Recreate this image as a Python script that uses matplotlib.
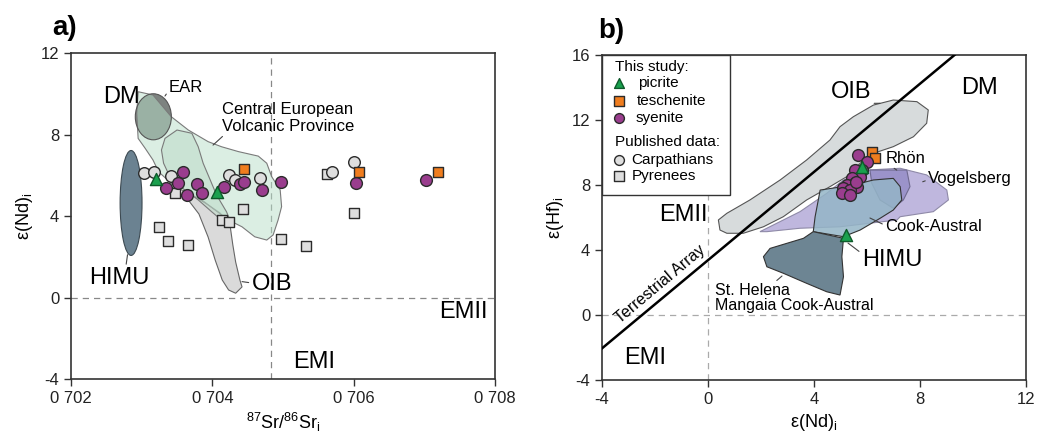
import numpy as np
import matplotlib
matplotlib.use('Agg')
import matplotlib.pyplot as plt
from matplotlib.patches import Polygon, Ellipse, Rectangle

plt.rcParams['font.family'] = ['Liberation Sans', 'DejaVu Sans']
plt.rcParams['mathtext.fontset'] = 'custom'
plt.rcParams['mathtext.rm'] = 'Liberation Sans'
plt.rcParams['mathtext.it'] = 'Liberation Sans:italic'
plt.rcParams['axes.unicode_minus'] = False

# colours
PURPLE = '#9a3d8e'
ORANGE = '#f07d1e'
GREEN = '#1aa04e'
PUBL = '#dedede'
EDGE = '#2b2b2b'
SPINE = '#333333'

# ---------------- a) eNd vs 87Sr/86Sr ----------------
syenite_sr = [0.70358, 0.70335, 0.70352, 0.70364, 0.70378, 0.70386, 0.70416,
              0.70439, 0.70445, 0.70470, 0.70497, 0.70603, 0.70702]
syenite_nd = [6.14, 5.37, 5.60, 5.03, 5.56, 5.11, 5.44, 5.59, 5.68, 5.28, 5.68, 5.63, 5.77]
picrite_sr = [0.70320, 0.70407]
picrite_nd = [5.82, 5.16]
teschenite_sr = [0.70445, 0.70608, 0.70720]
teschenite_nd = [6.31, 6.17, 6.17]
carp_sr = [0.70304, 0.70318, 0.70342, 0.70423, 0.70432, 0.70467, 0.70569, 0.70600]
carp_nd = [6.13, 6.16, 5.96, 6.01, 5.77, 5.86, 6.16, 6.65]
pyr_sr = [0.70347, 0.70443, 0.70413, 0.70424, 0.70325, 0.70337, 0.70365,
          0.70497, 0.70533, 0.70562, 0.70600]
pyr_nd = [5.11, 4.34, 3.80, 3.69, 3.45, 2.79, 2.58, 2.86, 2.54, 6.05, 4.13]

# fields (panel a)
cevp_x = [0.70295, 0.70316, 0.70342, 0.70366, 0.70394, 0.70413, 0.70437, 0.70465, 0.70477,
          0.70484, 0.70496, 0.70498, 0.70493, 0.70486, 0.70477, 0.70460, 0.70442, 0.70423,
          0.70404, 0.70385, 0.70371, 0.70347, 0.70324, 0.70316, 0.70305, 0.70295, 0.70293]
cevp_y = [10.10, 9.94, 8.87, 8.22, 7.65, 7.40, 7.16, 6.94, 6.59, 5.93, 5.28, 4.46, 3.80,
          3.07, 2.82, 2.98, 3.47, 3.80, 4.29, 4.79, 5.03, 5.44, 6.17, 6.75, 7.32, 7.81, 9.04]
inner_x = [0.70350, 0.70371, 0.70380, 0.70387, 0.70397, 0.70406, 0.70420, 0.70427,
           0.70413, 0.70399, 0.70380, 0.70361, 0.70342, 0.70331, 0.70328, 0.70333]
inner_y = [8.22, 8.06, 7.40, 6.59, 5.77, 5.03, 4.21, 3.64, 3.80, 4.21, 4.79, 5.28,
           5.77, 6.59, 7.24, 7.81]
oib_a_x = [0.70366, 0.70390, 0.70411, 0.70425, 0.70429, 0.70433, 0.70439, 0.70442,
           0.70433, 0.70423, 0.70414, 0.70404, 0.70394, 0.70381, 0.70368]
oib_a_y = [5.13, 4.64, 4.15, 3.56, 2.58, 1.74, 0.86, 0.52, 0.21, 0.37, 0.86, 1.84,
           2.97, 4.10, 4.69]
dm_center = (0.703165, 8.87)
dm_size = (0.00051, 2.26)
himu_a_center = (0.70285, 4.64)
himu_a_size = (0.00031, 5.15)
sr_bulk = 0.70483

# ---------------- b) eHf vs eNd ----------------
syenite_nd_b = [5.67, 5.99, 5.81, 5.55, 5.74, 5.43, 5.55, 5.25, 5.62, 5.11, 5.36, 5.05, 5.36, 5.58]
syenite_hf = [9.85, 9.42, 8.92, 8.92, 8.51, 8.41, 8.10, 8.00, 7.88, 7.80, 7.69, 7.49, 7.38, 8.18]
picrite_nd_b = [5.80, 5.20]
picrite_hf = [9.13, 4.92]
teschenite_nd_b = [6.18, 6.30]
teschenite_hf = [10.05, 9.64]

oib_b_x = [0.45, 0.39, 0.71, 1.58, 2.72, 3.72, 4.60, 4.98, 5.48, 6.24, 6.99, 7.88, 8.31,
           8.25, 7.75, 6.99, 6.24, 5.74, 5.23, 4.60, 3.72, 2.84, 2.09, 1.33, 0.71]
oib_b_y = [5.23, 5.85, 6.26, 7.08, 8.31, 9.54, 10.77, 11.59, 12.20, 12.92, 13.23, 13.13,
           12.62, 11.80, 10.97, 10.36, 9.95, 9.34, 8.51, 7.90, 7.08, 6.05, 5.43, 5.03, 5.03]
vog_x = [1.96, 3.47, 4.48, 5.11, 5.99, 7.25, 8.25, 9.01, 9.07, 8.50, 7.25, 7.13, 4.98, 3.47, 2.22]
vog_y = [5.13, 6.36, 7.49, 8.31, 8.92, 9.03, 8.62, 7.69, 7.08, 6.36, 6.05, 5.85, 5.43, 5.34, 5.13]
rhon_x = [6.11, 7.50, 7.62, 7.37, 6.99, 6.49, 6.18]
rhon_y = [8.92, 8.92, 7.90, 7.08, 6.57, 7.08, 8.10]
ca_x = [4.23, 5.48, 6.24, 6.99, 7.25, 7.31, 6.99, 6.49, 5.74, 5.11, 3.97, 4.04, 4.16]
ca_y = [7.69, 8.00, 8.31, 8.41, 7.90, 7.08, 6.46, 5.95, 5.23, 4.82, 5.13, 6.05, 7.08]
himu_b_x = [3.97, 5.11, 5.05, 5.11, 4.98, 4.48, 3.72, 2.84, 2.22, 2.09, 2.34, 2.97, 3.60]
himu_b_y = [5.13, 4.72, 3.59, 2.36, 1.23, 1.43, 1.95, 2.57, 2.97, 3.59, 4.10, 4.41, 4.72]
ta_nd = [-4.0, 9.3]
ta_hf = [-2.05, 16.0]


def style_axes(ax):
    for s in ax.spines.values():
        s.set_color(SPINE)
        s.set_linewidth(1.2)
    ax.tick_params(direction='out', length=5, width=1.0, color=SPINE,
                   labelsize=12, labelcolor='#222222')


def field(ax, xs, ys, fc, ec='#666666', lw=0.8, z=1):
    ax.add_patch(Polygon(np.column_stack([xs, ys]), closed=True, fc=fc, ec=ec, lw=lw, zorder=z))


def points(ax, x, y, marker, fc, s, ec=EDGE, z=6):
    ax.scatter(x, y, marker=marker, s=s, c=fc, edgecolors=ec, linewidths=1.0, zorder=z)


fig = plt.figure(figsize=(10.38, 4.37), dpi=100)
ax1 = fig.add_axes([0.0684, 0.1327, 0.4085, 0.746])
ax2 = fig.add_axes([0.580, 0.1304, 0.4085, 0.7437])

# ---- panel a ----
ax1.set_xlim(0.702, 0.708)
ax1.set_ylim(-4, 12)
ax1.set_xticks([0.702, 0.704, 0.706, 0.708])
ax1.set_xticklabels(['0 702', '0 704', '0 706', '0 708'])
ax1.set_yticks([-4, 0, 4, 8, 12])
style_axes(ax1)
ax1.axhline(0, color='#888888', lw=0.9, ls=(0, (5, 4)), zorder=0)
ax1.axvline(sr_bulk, color='#888888', lw=0.9, ls=(0, (5, 4)), zorder=0)

field(ax1, oib_a_x, oib_a_y, '#dadada', z=1)
ax1.add_patch(Ellipse(dm_center, *dm_size, fc='#7d8380', ec='none', zorder=2))
field(ax1, cevp_x, cevp_y, (0.72, 0.875, 0.79, 0.5), ec='#7a7a7a', z=3)
field(ax1, inner_x, inner_y, (0.74, 0.86, 0.79, 0.55), ec='#7a7a7a', z=3)
ax1.add_patch(Ellipse(dm_center, *dm_size, fill=False, ec='#555555', lw=0.8, zorder=4))
ax1.add_patch(Ellipse(himu_a_center, *himu_a_size, fc='#6b8291', ec='#3d4a52', lw=0.8, zorder=2))

points(ax1, pyr_sr, pyr_nd, 's', PUBL, 58)
points(ax1, carp_sr, carp_nd, 'o', PUBL, 70)
points(ax1, syenite_sr, syenite_nd, 'o', PURPLE, 72)
points(ax1, picrite_sr, picrite_nd, '^', GREEN, 76, ec='#0d5a2a')
points(ax1, teschenite_sr, teschenite_nd, 's', ORANGE, 62)

lead = dict(arrowstyle='-', lw=0.8, color='#444444', shrinkA=0, shrinkB=0)
ax1.text(0.70271, 9.84, 'DM', fontsize=17, ha='center', va='center', zorder=8)
ax1.annotate('EAR', xy=(0.70333, 9.89), xytext=(0.70363, 10.33), fontsize=12,
             ha='center', va='center', arrowprops=dict(lead, relpos=(0.0, 0.3)), zorder=8)
ax1.annotate('Central European\nVolcanic Province', xy=(0.70401, 7.48), xytext=(0.70413, 8.82),
             fontsize=12, ha='left', va='center', linespacing=1.15,
             arrowprops=dict(lead, relpos=(0.03, 0.0)), zorder=8)
ax1.annotate('HIMU', xy=(0.70280, 2.1), xytext=(0.70269, 0.96), fontsize=17,
             ha='center', va='center', arrowprops=dict(lead, relpos=(0.6, 1.0)), zorder=8)
ax1.annotate('OIB', xy=(0.70442, 0.78), xytext=(0.70484, 0.66), fontsize=17,
             ha='center', va='center', arrowprops=dict(lead, relpos=(0.0, 0.55)), zorder=8)
ax1.text(0.70755, -0.70, 'EMII', fontsize=17, ha='center', va='center')
ax1.text(0.70544, -3.15, 'EMI', fontsize=17, ha='center', va='center')
ax1.set_xlabel(r'$\mathrm{^{87}Sr/^{86}Sr_{i}}$', fontsize=13, labelpad=4)
ax1.set_ylabel(r'ε(Nd)$_\mathrm{i}$', fontsize=13, labelpad=4)

# ---- panel b ----
ax2.set_xlim(-4, 12)
ax2.set_ylim(-4, 16)
ax2.set_xticks([-4, 0, 4, 8, 12])
ax2.set_yticks([-4, 0, 4, 8, 12, 16])
style_axes(ax2)
ax2.axhline(0, color='#aaaaaa', lw=0.9, ls=(0, (5, 4)), zorder=0)
ax2.axvline(0, color='#aaaaaa', lw=0.9, ls=(0, (5, 4)), zorder=0)

field(ax2, oib_b_x, oib_b_y, '#d7dbdc', ec='#555555', z=1)
field(ax2, vog_x, vog_y, (0.72, 0.69, 0.86, 0.9), ec='#8f8aa8', z=2)
field(ax2, rhon_x, rhon_y, (0.56, 0.53, 0.77, 0.75), ec='#6f6a90', z=3)
field(ax2, ca_x, ca_y, (0.58, 0.71, 0.78, 0.85), ec='#333333', z=4)
field(ax2, himu_b_x, himu_b_y, '#6d8593', ec='#333333', z=4)
ax2.plot(ta_nd, ta_hf, color='black', lw=1.8, zorder=5)

points(ax2, syenite_nd_b, syenite_hf, 'o', PURPLE, 72)
points(ax2, picrite_nd_b, picrite_hf, '^', GREEN, 76, ec='#0d5a2a', z=7)
points(ax2, teschenite_nd_b, teschenite_hf, 's', ORANGE, 62, z=5.5)

ax2.annotate('OIB', xy=(6.49, 13.03), xytext=(5.40, 13.7), fontsize=17, ha='center', va='center',
             arrowprops=dict(lead, relpos=(0.85, 0.0)), zorder=8)
ax2.text(10.26, 14.0, 'DM', fontsize=17, ha='center', va='center')
ax2.text(-0.94, 6.15, 'EMII', fontsize=17, ha='center', va='center', zorder=8)
ax2.text(-2.38, -2.65, 'EMI', fontsize=17, ha='center', va='center')
ax2.text(-1.81, 1.91, 'Terrestrial Array', fontsize=11.5, ha='center', va='center', rotation=40)
ax2.annotate('Rhön', xy=(7.12, 8.92), xytext=(7.47, 9.66), fontsize=12, ha='center', va='center',
             arrowprops=dict(lead, relpos=(0.1, 0.0)), zorder=8)
ax2.annotate('Vogelsberg', xy=(8.1, 8.2), xytext=(8.3, 8.41), fontsize=12, ha='left', va='center',
             arrowprops=dict(lead, relpos=(0.0, 0.4)), zorder=8)
ax2.annotate('Cook-Austral', xy=(6.11, 5.97), xytext=(6.68, 5.43), fontsize=12, ha='left', va='center',
             arrowprops=dict(lead, relpos=(0.0, 0.6)), zorder=8)
ax2.annotate('HIMU', xy=(5.28, 4.43), xytext=(6.94, 3.38), fontsize=17, ha='center', va='center',
             arrowprops=dict(lead, relpos=(0.0, 0.8)), zorder=8)
ax2.annotate('St. Helena\nMangaia Cook-Austral', xy=(2.79, 2.4), xytext=(0.26, 1.03), fontsize=11.5,
             ha='left', va='center', linespacing=1.0,
             arrowprops=dict(lead, relpos=(0.37, 1.0)), zorder=8)
ax2.set_xlabel(r'ε(Nd)$_\mathrm{i}$', fontsize=13, labelpad=4)
ax2.set_ylabel(r'ε(Hf)$_\mathrm{i}$', fontsize=13, labelpad=4)

# legend box
T = ax2.transAxes
ax2.add_patch(Rectangle((0, 0.569), 0.302, 0.431, transform=T, fc='white', ec=SPINE, lw=1.0, zorder=9))
ax2.text(0.031, 0.964, 'This study:', transform=T, fontsize=11, va='center', zorder=10)
ax2.text(0.031, 0.733, 'Published data:', transform=T, fontsize=11, va='center', zorder=10)
leg_items = [('^', GREEN, 'picrite', 0.915, 0.085, '#0d5a2a'),
             ('s', ORANGE, 'teschenite', 0.860, 0.082, EDGE),
             ('o', PURPLE, 'syenite', 0.805, 0.078, EDGE),
             ('o', PUBL, 'Carpathians', 0.677, 0.070, EDGE),
             ('s', PUBL, 'Pyrenees', 0.628, 0.070, EDGE)]
for m, c, lab, yy, tx, ec in leg_items:
    ax2.scatter([0.041], [yy], marker=m, s=50, c=c, edgecolors=ec, linewidths=1.0,
                transform=T, zorder=10, clip_on=False)
    ax2.text(tx, yy, lab, transform=T, fontsize=11, va='center', zorder=10)

fig.text(0.062, 0.935, 'a)', fontsize=20, fontweight='bold', ha='center', va='center')
fig.text(0.589, 0.930, 'b)', fontsize=20, fontweight='bold', ha='center', va='center')

fig.savefig('out.png', dpi=100)
